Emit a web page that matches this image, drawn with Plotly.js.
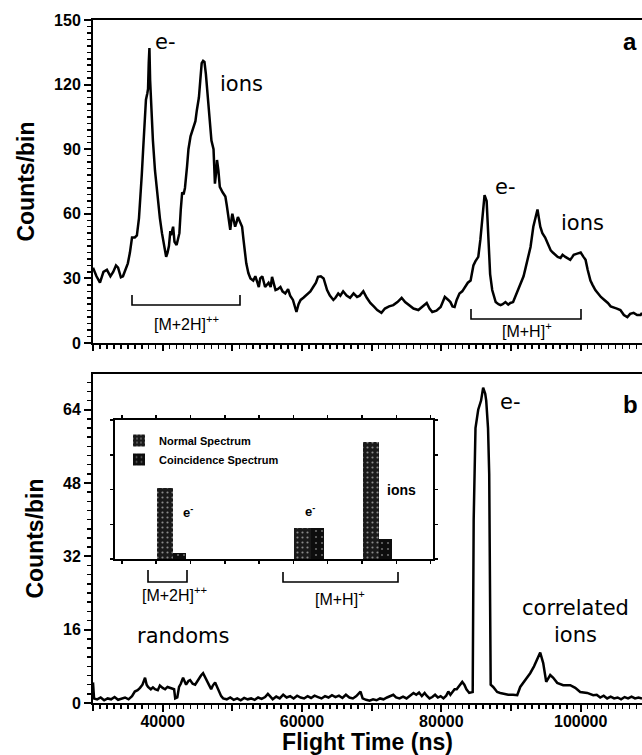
<!DOCTYPE html>
<html><head><meta charset="utf-8">
<script src="https://cdn.plot.ly/plotly-3.0.1.min.js"></script>
<style>html,body{margin:0;padding:0;background:#fff}#plot{width:642px;height:755px}</style>
</head><body><div id="plot"></div>
<script>
// ---- Panel a: normal spectrum ----
const timeA = [30000,30500,31000,31500,32000,32500,32900,33300,33600,34000,34300,34700,35000,35300,35600,36000,36300,36600,36800,37000,37200,37400,37600,37800,37900,38000,38100,38200,38300,38600,38900,39200,39600,39900,40200,40500,40700,40900,41100,41200,41500,41700,42000,42200,42400,42600,42800,43000,43200,43500,43700,44000,44400,44700,44900,45200,45400,45600,45800,46000,46200,46400,46800,47000,47300,47500,47700,47800,48000,48200,48600,49000,49200,49400,49600,49700,49900,50000,50200,50400,50600,50800,51000,51400,51600,51800,52000,52300,52600,53000,53300,53600,53800,54000,54300,54700,55000,55200,55500,55700,56000,56200,56500,56900,57200,57600,58000,58300,58700,59000,59200,59500,59800,60200,60800,61200,61600,62000,62300,62700,63100,63400,63600,64000,64500,64800,65200,65500,65900,66400,66900,67400,67900,68300,68800,69300,69800,70300,70800,71400,71900,72500,73100,73700,74300,74800,75400,76000,76700,77300,77900,78300,78700,79300,79900,80200,80500,81000,81300,81600,81900,82200,82600,83000,83400,83800,84200,84600,84900,85300,85600,85900,86200,86500,86800,87000,87300,87800,88200,88500,88800,89200,89600,89900,90300,90600,91000,91400,91800,92100,92500,92800,93200,93500,93800,94000,94200,94500,94900,95300,95700,96000,96400,96700,97100,97400,97800,98200,98500,98800,99000,99500,100000,100400,100700,101000,101400,101700,102100,102500,102900,103400,103900,104300,104700,105200,105700,106200,106700,107100,107600,108100,108600,108800];
const countsA = [35,31,28,33,34,31,33,36,35,30.5,31,35,37,42,49,49,50,58,66,78,90,102,113,116,118,130,137,122,114,94,80,70,58,51,46,40,42,45,52,50,54,47,45.5,48,51,62,70,69,72,82,90,96,100,103,108,114,122,130,131,130.5,125,117,100,94,90,74,80,85,80,72.5,70,68,64,60,55,52.5,58,60,57,54,56,58.5,57,54,48,42,37,32.5,30,29,31,28,26,30,31,26,27,28,26,30.7,27,24.6,25,26,24,23,25,22,20,16,14.4,18,20,21,23,24,26,28,30.7,31,30,27,24.6,22,20,21,23,22,24,22,21,23,21.4,22,24,21,18.6,17,15.3,14,16,17,17.6,19,21,19,17.6,16,15.3,17,18.6,16,14.4,15,16.7,19,21.4,20,19,17,16.7,20,23,24,26,28,29,36,38,40,48,58.5,68.7,66,43,32,24.6,19,18,17.6,18,19,17.8,18.6,19,21.4,24,28,31,35,40,44.6,54,58,62,58,54,51,49,46,43,42,41,40,39.5,41,40,39,38.6,40,41,41.5,42,40,38.6,34,29,27,24.6,23,21.4,20,18.6,17,16.7,16,15.3,13,12,13.5,14,13,13,14];

// ---- Panel b: coincidence spectrum ----
const timeB = [30000,30150,30600,31100,31600,32100,32600,33100,33600,34100,34600,35100,35600,36000,36400,36750,37100,37470,37700,37900,38300,38600,38900,39300,39600,40000,40350,40700,41070,41400,41640,41800,42100,42350,42600,42930,43200,43360,43700,43940,44300,44660,45000,45230,45500,45800,46100,46380,46700,46960,47200,47530,47800,48100,48400,48680,49200,49700,50200,50700,51200,51700,52200,52700,53200,53700,54200,54700,55100,55400,55800,56300,56800,57300,57800,58300,58800,59300,59800,60300,60800,61300,61800,62300,62800,63300,63800,64300,64800,65300,65800,66300,66800,67300,67800,68400,68700,69200,69700,70200,70700,71200,71700,72200,72700,73100,73500,74000,74500,75000,75500,76000,76400,76800,77200,77600,77900,78300,78700,79100,79500,79900,80300,80700,81000,81300,81600,81900,82200,82450,82700,83000,83300,83600,84000,84300,84500,84640,84900,85290,85700,86000,86300,86440,86700,86870,87080,87440,88010,88450,89000,89600,90300,90890,91320,92040,92750,93300,93760,94190,94620,95050,95630,96060,96630,97490,98500,99220,99930,100940,101800,102300,102800,103300,103800,104300,104800,105300,105800,106300,106800,107300,107800,108300,108800];
const countsB = [4.5,1.0,0.8,1.2,0.6,1.0,0.8,1.3,0.7,1.0,1.2,0.8,1.5,2.5,2.8,3.3,4.0,5.5,4.0,3.5,3.0,3.4,3.0,2.8,3.8,3.3,3.0,3.5,3.3,3.0,3.0,1.0,1.2,3.5,4.2,5.5,4.5,4.0,4.8,5.0,4.2,4.0,4.8,5.5,6.0,6.5,5.5,4.5,3.8,3.0,3.8,4.5,3.5,2.5,1.5,1.0,0.8,1.2,0.7,1.0,0.6,1.1,0.8,1.0,0.7,1.2,0.9,1.3,2.0,1.5,0.8,1.4,1.0,1.8,1.2,1.5,1.0,1.6,1.2,1.0,1.5,1.1,1.6,1.3,1.0,1.5,1.2,1.7,1.3,1.6,1.1,1.8,1.2,1.0,1.5,2.5,1.0,0.7,0.5,0.8,0.6,1.0,0.8,1.2,1.5,1.8,1.2,1.0,1.4,1.0,1.6,2.2,1.8,2.3,1.5,2.2,1.6,1.0,1.3,1.8,1.2,1.5,1.0,1.6,2.5,1.8,2.4,3.0,3.0,3.5,4.2,4.6,4.0,3.0,2.2,2.4,2.4,40,60,64,66,68.8,67.5,66,60,50,4,3.5,2.4,2.2,2.0,1.8,1.8,1.7,3.5,5.0,6.5,8,9.4,11,8.7,4.6,6.1,5.5,4.4,3.9,3.9,3.3,2.4,2.2,1.7,1.8,1.2,1.6,1.0,1.4,1.0,1.2,0.8,1.3,1.0,1.4,1.0,1.2,1.0];

// ---- Inset: bar comparison ----
const insetGroups = ["[M+2H]++ e-", "[M+H]+ e-", "[M+H]+ ions"];
const insetPos = [1.5, 5.5, 7.5];
const normalSpectrum = [20.4, 8.9, 33.7];
const coincidenceSpectrum = [1.7, 8.9, 5.8];

// ---- geometry helpers (layout only) ----
const W = 642, H = 755, ML = 93, MR = 0, MT = 20, MB = 52;
const PW = W - ML - MR, PH = H - MT - MB;
const px = v => (v - ML) / PW;
const py = v => (H - MB - v) / PH;

const FAM = 'Liberation Sans, Arial, sans-serif';
const BOLD = {family: FAM, size: 16, color: '#000', weight: 'bold'};
const TXT = {family: 'DejaVu Sans, sans-serif', size: 21, color: '#000'};
const TITLE = {family: FAM, size: 23, color: '#000', weight: 'bold'};

const data = [
  {type: 'scatter', mode: 'lines', x: timeA, y: countsA, xaxis: 'x2', yaxis: 'y2',
   line: {color: '#000', width: 2.5}, showlegend: false, hoverinfo: 'skip'},
  {type: 'scatter', mode: 'lines', x: timeB, y: countsB, xaxis: 'x', yaxis: 'y',
   line: {color: '#000', width: 2.5}, showlegend: false, hoverinfo: 'skip'},
  {type: 'bar', name: 'Normal Spectrum', x: insetPos, y: normalSpectrum, text: insetGroups, textposition: 'none',
   xaxis: 'x3', yaxis: 'y3', offset: -0.47, width: 0.47,
   marker: {color: '#1a1a1a', line: {width: 0}, pattern: {shape: '.', fgcolor: '#8a8a8a', bgcolor: '#1a1a1a', size: 5, solidity: 0.15}}},
  {type: 'bar', name: 'Coincidence Spectrum', x: insetPos, y: coincidenceSpectrum, text: insetGroups, textposition: 'none',
   xaxis: 'x3', yaxis: 'y3', offset: 0, width: 0.38,
   marker: {color: '#0d0d0d', line: {width: 0}, pattern: {shape: '.', fgcolor: '#6a6a6a', bgcolor: '#0d0d0d', size: 6, solidity: 0.1}}},
  {type: 'scatter', mode: 'lines', x: [30000, 108800], y: [0, 0], xaxis: 'x4', yaxis: 'y',
   line: {width: 0, color: 'rgba(0,0,0,0)'}, showlegend: false, hoverinfo: 'skip'},
  {type: 'scatter', mode: 'lines', x: [30000, 108800], y: [0, 0], xaxis: 'x5', yaxis: 'y2',
   line: {width: 0, color: 'rgba(0,0,0,0)'}, showlegend: false, hoverinfo: 'skip'}
];

const XR = [30000, 108800];
const minorX = {ticks: 'outside', tickmode: 'linear', dtick: 1000, tick0: 0, ticklen: 4, tickwidth: 1.5, tickcolor: '#000', showgrid: false};
const tickOverlay = {range: XR, showgrid: false, zeroline: false, showline: false,
  ticks: 'outside', ticklen: 7, tickwidth: 2, tickcolor: '#000', tickmode: 'linear', tick0: 0, dtick: 10000,
  showticklabels: false, automargin: false, domain: [0, 1]};
const layout = {
  width: W, height: H, margin: {l: ML, r: MR, t: MT, b: MB},
  paper_bgcolor: '#fff', plot_bgcolor: '#fff', showlegend: true,
  xaxis: {anchor: 'y', domain: [0, 1], range: XR, showgrid: false, zeroline: false, showline: true, linewidth: 2,
    linecolor: '#000', mirror: true, ticks: 'outside', ticklen: 7, tickwidth: 2, tickcolor: '#000',
    tickmode: 'linear', tick0: 0, dtick: 20000, tickformat: 'd', minor: minorX, tickfont: BOLD,
    ticklabelstandoff: -4, automargin: false,
    title: {text: 'Flight Time (ns)', font: {family: FAM, size: 23, color: '#000', weight: 'bold'}, standoff: 7}},
  xaxis4: Object.assign({}, tickOverlay, {anchor: 'y', overlaying: 'x'}),
  xaxis2: {anchor: 'y2', domain: [0, 1], range: XR, matches: 'x', showgrid: false, zeroline: false, showline: true,
    linewidth: 2, linecolor: '#000', mirror: true, ticks: 'outside', ticklen: 4, tickwidth: 1.5, tickcolor: '#000',
    tickmode: 'linear', tick0: 0, dtick: 1000, showticklabels: false, automargin: false},
  xaxis5: Object.assign({}, tickOverlay, {anchor: 'y2', overlaying: 'x2'}),
  yaxis: {anchor: 'x', domain: [0, py(374)], range: [0, 71.8], showgrid: false, zeroline: false,
    showline: true, linewidth: 2, linecolor: '#000', ticks: 'outside', ticklen: 7, tickwidth: 2, tickcolor: '#000',
    tickmode: 'linear', tick0: 0, dtick: 16,
    minor: {ticks: 'outside', tickmode: 'linear', tick0: 0, dtick: 2, ticklen: 4, tickwidth: 1.5, tickcolor: '#000', showgrid: false},
    tickfont: BOLD, automargin: false,
    title: {text: 'Counts/bin', font: TITLE, standoff: 13}},
  yaxis2: {anchor: 'x2', domain: [py(343), 1], range: [0, 150], showgrid: false, zeroline: false,
    showline: true, linewidth: 2, linecolor: '#000', ticks: 'outside', ticklen: 7, tickwidth: 2, tickcolor: '#000',
    tickmode: 'linear', tick0: 0, dtick: 30,
    minor: {ticks: 'outside', tickmode: 'linear', tick0: 0, dtick: 3, ticklen: 4, tickwidth: 1.5, tickcolor: '#000', showgrid: false},
    tickfont: BOLD, automargin: false,
    title: {text: 'Counts/bin', font: TITLE, standoff: 13}},
  xaxis3: {anchor: 'y3', domain: [px(115), px(433)], range: [-0.2, 9.07], showgrid: false, zeroline: false,
    showline: true, linewidth: 1.8, linecolor: '#000', mirror: 'ticks', ticks: 'outside', ticklen: 3, tickwidth: 1.5,
    tickcolor: '#000', tickmode: 'linear', dtick: 1, tick0: 0, showticklabels: false, automargin: false},
  yaxis3: {anchor: 'x3', domain: [py(559), py(420)], range: [0, 40], showgrid: false, zeroline: false,
    showline: true, linewidth: 1.8, linecolor: '#000', mirror: 'ticks', ticks: 'outside', ticklen: 3, tickwidth: 1.5,
    tickcolor: '#000', tickmode: 'linear', tick0: 0, dtick: 10, showticklabels: false, automargin: false},
  legend: {x: px(119), y: py(426), xanchor: 'left', yanchor: 'top', bgcolor: 'rgba(0,0,0,0)', borderwidth: 0,
    font: {family: FAM, size: 11, color: '#000', weight: 'bold'}, tracegroupgap: 0},
  bargap: 0,
  annotations: [],
  shapes: []
};

function note(text, x, y, font) {
  layout.annotations.push({text: text, x: px(x), y: py(y), xref: 'paper', yref: 'paper',
    xanchor: 'center', yanchor: 'middle', showarrow: false, font: font || TXT});
}
function bracket(x0, x1, yTop, yBot) {
  layout.shapes.push({type: 'path', xref: 'paper', yref: 'paper',
    path: 'M ' + px(x0) + ' ' + py(yTop) + ' L ' + px(x0) + ' ' + py(yBot) + ' L ' + px(x1) + ' ' + py(yBot) + ' L ' + px(x1) + ' ' + py(yTop),
    line: {color: '#000', width: 1.6}});
}
const BIG = {family: FAM, size: 24, color: '#000', weight: 'bold'};
const LBL = {family: FAM, size: 16, color: '#000'};
const SMB = {family: FAM, size: 13, color: '#000', weight: 'bold'};

note('e-', 165, 42); note('ions', 241, 84); note('a', 630, 41, BIG);
note('e-', 505, 187); note('ions', 582, 223);
note('[M+2H]<sup>++</sup>', 186, 323, LBL); note('[M+H]<sup>+</sup>', 527, 330, LBL);
bracket(132, 240, 295, 305); bracket(471, 581, 309, 319);
note('e-', 510, 402); note('b', 630, 405, BIG);
note('correlated<br>ions', 575, 621); note('randoms', 183, 636);
note('e<sup>-</sup>', 188, 512, SMB); note('e<sup>-</sup>', 310, 511, SMB);
note('ions', 401, 490, {family: FAM, size: 14, color: '#000', weight: 'bold'});
note('[M+2H]<sup>++</sup>', 174, 594, LBL); note('[M+H]<sup>+</sup>', 340, 598, LBL);
bracket(148, 187, 570, 582); bracket(283, 398, 572, 582);

Plotly.newPlot('plot', data, layout, {staticPlot: true, displayModeBar: false});
</script></body></html>
